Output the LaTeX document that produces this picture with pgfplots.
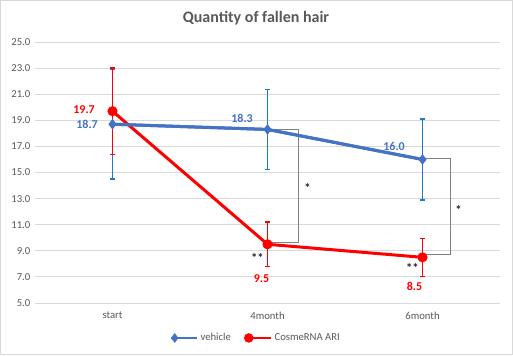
\documentclass[border=0pt]{standalone}
\usepackage{fontspec}
\setmainfont{Carlito}
\usepackage{pgfplots}
\usepackage{pgfplotstable}
\pgfplotsset{compat=1.18}
\definecolor{vblue}{HTML}{4472C4}
\definecolor{ebblue}{HTML}{1F78D1}
\definecolor{cred}{HTML}{FF0000}
\definecolor{txt}{HTML}{595959}
\definecolor{gridc}{HTML}{D9D9D9}
\definecolor{brk}{HTML}{808080}
\pgfplotstableread{
x y e
0 18.7 4.2
1 18.3 3.05
2 16.0 3.1
}\vehicle
\pgfplotstableread{
x y e
0 19.7 3.3
1 9.5 1.7
2 8.5 1.45
}\cosme
\begin{document}
\begin{tikzpicture}
\useasboundingbox (0,0) rectangle (384.75pt,266.25pt);
\fill[white] (0,0) rectangle (384.75pt,266.25pt);
\draw[gridc, line width=0.75pt] (0.375pt,0.375pt) rectangle (384.375pt,265.875pt);
\node[font=\fontsize{12}{14}\selectfont\bfseries, text=txt] at (192pt,252.75pt) {Quantity of fallen hair};
\begin{axis}[
 at={(26.25pt,39pt)}, anchor=south west, scale only axis,
 width=348.75pt, height=195.75pt,
 xmin=-0.5, xmax=2.5, ymin=5, ymax=25,
 xtick={0,1,2}, xticklabels={start,4month,6month},
 ytick={5,7,...,25},
 ymajorgrids, grid style={gridc, line width=0.75pt},
 axis line style={draw=none}, major tick length=0pt,
 tick label style={font=\fontsize{8}{10}\selectfont, text=txt},
 yticklabel style={/pgf/number format/.cd, fixed, fixed zerofill, precision=1, assume math mode=true},
 xticklabel style={yshift=-3pt},
 clip=false,
 legend style={at={(0.476,-0.134)}, anchor=center, draw=none, fill=none,
   legend columns=2, font=\fontsize{8}{10}\selectfont, text=txt,
   /tikz/every even column/.append style={column sep=8pt}},
 legend image code/.code={\draw[mark=none] (0pt,0pt) -- (19pt,0pt); \draw plot coordinates {(2.5pt,0pt)};},
]
\addlegendimage{vblue, line width=1.8pt, mark=diamond*, mark size=2.2pt, mark options={solid}}
\addlegendentry{vehicle}
\addlegendimage{cred, line width=1.8pt, mark=*, mark size=2.6pt}
\addlegendentry{CosmeRNA ARI}

% brackets
\draw[brk, line width=0.75pt] (axis cs:1,18.26) -- (axis cs:1.198,18.26) -- (axis cs:1.198,9.6) -- (axis cs:1,9.6);
\draw[brk, line width=0.75pt] (axis cs:2,16.06) -- (axis cs:2.18,16.06) -- (axis cs:2.18,8.68) -- (axis cs:2,8.68);

% vehicle with error bars
\addplot[forget plot, vblue, line width=2.25pt, mark=none,
  error bars/.cd, y dir=both, y explicit,
  error bar style={ebblue, line width=1pt},
  error mark options={ebblue, rotate=90, mark size=2pt, line width=1pt}]
  table[x=x, y=y, y error=e] {\vehicle};
% cosme with error bars
\addplot[forget plot, cred, line width=2.25pt, mark=*, mark size=2.6pt,
  error bars/.cd, y dir=both, y explicit,
  error bar style={cred, line width=1pt},
  error mark options={cred, rotate=90, mark size=2pt, line width=1pt}]
  table[x=x, y=y, y error=e] {\cosme};
% vehicle line on top
\addplot[forget plot, vblue, line width=2.25pt, mark=diamond*, mark size=2.2pt]
  table[x=x, y=y] {\vehicle};

% data labels
\begin{scope}[every node/.style={font=\fontsize{9}{11}\selectfont\bfseries}]
\node[vblue, anchor=east, xshift=-7.5pt] at (axis cs:0,18.7) {18.7};
\node[cred, anchor=east, xshift=-9.75pt, yshift=1.5pt] at (axis cs:0,19.7) {19.7};
\node[vblue, anchor=east, xshift=-7.5pt, yshift=8.25pt] at (axis cs:1,18.3) {18.3};
\node[vblue, anchor=east, xshift=-9.75pt, yshift=10pt] at (axis cs:2,16.0) {16.0};
\node[cred, xshift=-4.5pt, yshift=-26pt] at (axis cs:1,9.5) {9.5};
\node[cred, xshift=-6pt, yshift=-22pt] at (axis cs:2,8.5) {8.5};
\end{scope}
\begin{scope}[every node/.style={font=\fontsize{9.5}{11}\selectfont\bfseries, text=black!85}]
\node[yshift=-2pt] at (axis cs:1.258,14.04) {*};
\node[yshift=-2pt] at (axis cs:2.232,12.3) {*};
\node[yshift=-2pt] at (axis cs:0.935,8.68) {**};
\node[yshift=-2pt] at (axis cs:1.935,7.86) {**};
\end{scope}
\end{axis}
\end{tikzpicture}
\end{document}
